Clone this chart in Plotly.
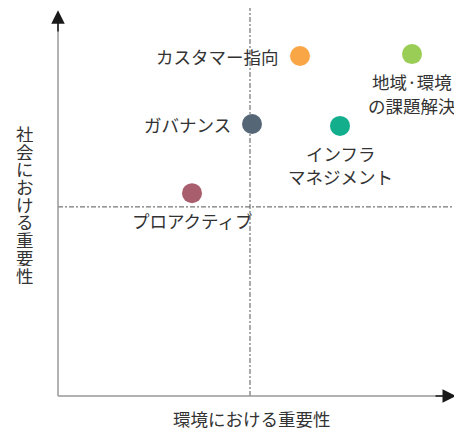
import plotly.graph_objects as go

# ---- data ----
names = ["カスタマー指向", "地域·環境<br>の課題解決", "ガバナンス", "インフラ<br>マネジメント", "プロアクティブ"]
env_importance = [6.05, 8.85, 4.85, 7.05, 3.35]      # x
soc_importance = [8.90, 8.95, 7.12, 7.07, 5.31]      # y
colors = ["#F9A646", "#9ACD55", "#556677", "#13AE8C", "#A85E6C"]
label_side = ["left", "below", "left", "below", "below"]
x_divider = 4.8
y_divider = 4.95
x_title = "環境における重要性"
y_title = "社会における重要性"

FONT = "Noto Sans CJK JP"
TXT = "#333333"
FS = 17.5

fig = go.Figure()
fig.add_trace(go.Scatter(
    x=env_importance, y=soc_importance, mode="markers",
    marker=dict(size=20, color=colors),
    hoverinfo="skip", showlegend=False,
))
for t, s, xv, yv in zip(names, label_side, env_importance, soc_importance):
    if s == "left":
        fig.add_annotation(x=xv, y=yv, text=t, showarrow=False, xanchor="right",
                           xshift=-19, font=dict(family=FONT, size=FS, color=TXT))
    else:
        for i, line in enumerate(t.split("<br>")):
            fig.add_annotation(x=xv, y=yv, text=line, showarrow=False,
                               xanchor="center", yanchor="middle",
                               yshift=-(27 + i * 23.5), height=20, borderpad=0,
                               font=dict(family=FONT, size=FS, color=TXT))

# divider lines
dash = "5px,2px,2px,2px"
fig.add_shape(type="line", x0=0, x1=10.05, y0=y_divider, y1=y_divider,
              line=dict(color="#555", width=1, dash=dash), layer="below")
fig.add_shape(type="line", x0=x_divider, x1=x_divider, y0=0, y1=10.2,
              line=dict(color="#555", width=1, dash=dash), layer="below")
# axes
fig.add_shape(type="line", x0=0, x1=0, y0=0, y1=9.8, line=dict(color="#999", width=1.5))
fig.add_shape(type="line", x0=0, x1=9.8, y0=0, y1=0, line=dict(color="#999", width=1.5))
fig.add_annotation(x=0, y=10.1, ax=0, ay=9.5, xref="x", yref="y", axref="x", ayref="y",
                   showarrow=True, arrowhead=2, arrowsize=1.8, arrowwidth=1.5,
                   arrowcolor="#1a1a1a", text="")
fig.add_annotation(x=9.95, y=0, ax=9.4, ay=0, xref="x", yref="y", axref="x", ayref="y",
                   showarrow=True, arrowhead=2, arrowsize=1.8, arrowwidth=1.5,
                   arrowcolor="#1a1a1a", text="")

# axis titles
fig.add_annotation(x=x_divider + 0.05, y=-0.60, text=x_title, showarrow=False,
                   font=dict(family=FONT, size=FS, color=TXT))
n = len(y_title)
for i, ch in enumerate(y_title):
    fig.add_annotation(x=-0.83, y=5.02, text=ch, showarrow=False,
                       yshift=(n - 1) / 2 * 17.7 - i * 17.7,
                       height=17, borderpad=0,
                       font=dict(family=FONT, size=FS, color=TXT))

fig.update_layout(
    width=462, height=436, margin=dict(l=0, r=0, t=0, b=0),
    paper_bgcolor="white", plot_bgcolor="white",
    xaxis=dict(visible=False, range=[-1.25, 10.3]),
    yaxis=dict(visible=False, range=[-1.257, 10.157]),
)
fig.write_html("out.html")
